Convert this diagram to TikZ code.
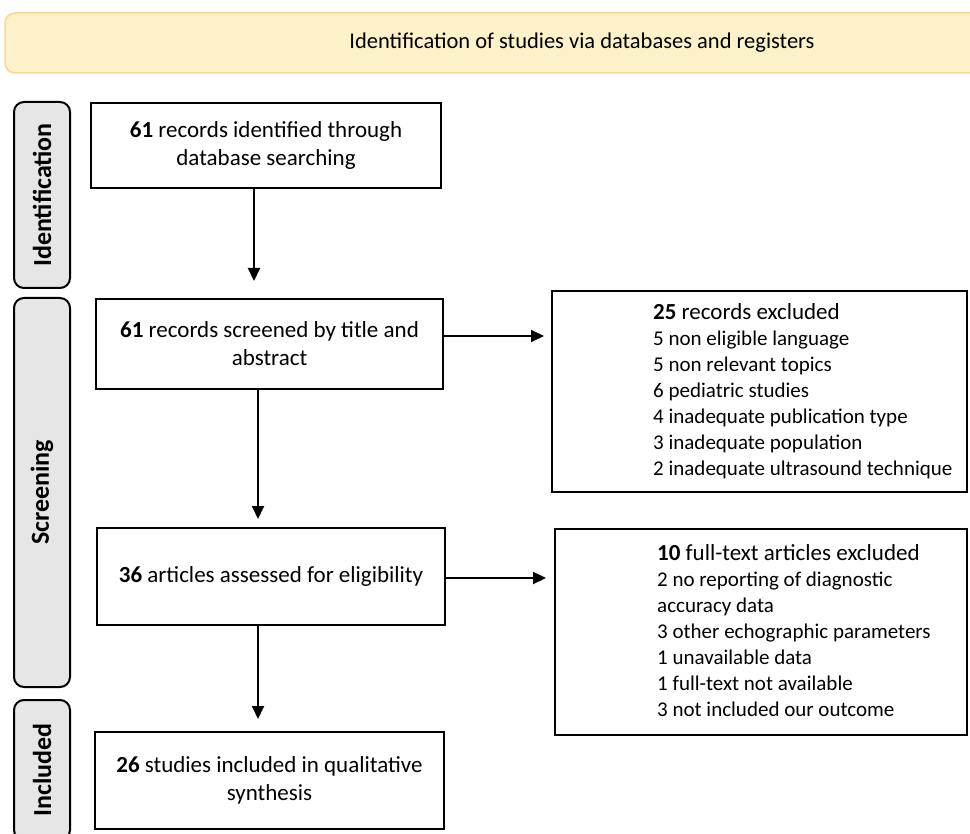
\documentclass[tikz,border=0pt]{standalone}
\usepackage{fontspec}
\setmainfont{Carlito}
\usetikzlibrary{arrows.meta}
\definecolor{bannerfill}{HTML}{FDF1C9}
\definecolor{bannerdraw}{HTML}{F6D98A}
\definecolor{sidefill}{HTML}{E6E6E6}
\begin{document}
\begin{tikzpicture}[x=1pt,y=-1pt,
  box/.style={draw=black, line width=2pt, fill=white, inner sep=0pt, align=center,
    font=\fontsize{23}{28}\selectfont},
  side/.style={draw=black, line width=2pt, fill=sidefill, rounded corners=10pt,
    inner sep=0pt, minimum width=56pt},
  sidetext/.style={font=\fontsize{26}{28}\selectfont\bfseries, rotate=90, inner sep=0pt},
  exclbox/.style={draw=black, line width=2pt, fill=white, inner sep=0pt},
  excltext/.style={anchor=north west, align=left, inner sep=0pt,
    font=\fontsize{21}{26}\selectfont},
  arr/.style={line width=2pt, -{Triangle[length=13pt,width=12pt]}},
]
\useasboundingbox (0,0) rectangle (970,834);
\clip (0,0) rectangle (970,834);

% banner
\node[draw=bannerdraw, line width=1.5pt, fill=bannerfill, rounded corners=10pt,
  minimum width=1154pt, minimum height=60pt, inner sep=0pt] (banner) at (582,43)
  {\fontsize{22.5}{26}\selectfont Identification of studies via databases and registers};

% side labels
\node[side, minimum height=186pt] (sid) at (42,195) {};
\node[sidetext] (sidt) at (sid.center) {Identification};
\node[side, minimum height=389pt] (sscr) at (42,492.5) {};
\node[sidetext] (sscrt) at (sscr.center) {Screening};
\node[side, minimum height=140pt] (sinc) at (42,770) {};
\node[sidetext] (sinct) at (42,770) {Included};

% main boxes
\node[box, minimum width=350pt, minimum height=85pt] (b1) at (266,145.5)
  {\textbf{61} records identified through\\database searching};
\node[box, minimum width=347pt, minimum height=90pt] (b2) at (269.5,344)
  {\textbf{61} records screened by title and\\abstract};
\node[box, minimum width=348pt, minimum height=97pt] (b3) at (271,576.5)
  {\textbf{36} articles assessed for eligibility};
\node[box, minimum width=349pt, minimum height=97pt] (b4) at (269.5,780.5)
  {\textbf{26} studies included in qualitative\\synthesis};

% exclusion boxes
\node[exclbox, minimum width=415pt, minimum height=201pt] (e1) at (759.5,391.5) {};
\node[excltext] (e1t) at (653,303)
  {{\fontsize{23}{26}\selectfont\textbf{25} records excluded}\\
   5 non eligible language\\
   5 non relevant topics\\
   6 pediatric studies\\
   4 inadequate publication type\\
   3 inadequate population\\
   2 inadequate ultrasound technique};
\node[exclbox, minimum width=412pt, minimum height=206pt] (e2) at (761,632) {};
\node[excltext] (e2t) at (657,544)
  {{\fontsize{23}{26}\selectfont\textbf{10} full-text articles excluded}\\
   2 no reporting of diagnostic\\
   accuracy data\\
   3 other echographic parameters\\
   1 unavailable data\\
   1 full-text not available\\
   3 not included our outcome};

% connectors
\coordinate (ax1) at (254,0);
\coordinate (ax2) at (258,0);
\draw[arr, shorten >=17pt] (b1.south -| ax1) -- (b2.north -| ax1);
\draw[arr, shorten >=8pt] (b2.south -| ax2) -- (b3.north -| ax2);
\draw[arr, shorten >=12pt] (b3.south -| ax2) -- (b4.north -| ax2);
\coordinate (ay1) at (0,336);
\coordinate (ay2) at (0,578);
\draw[arr, shorten >=7pt] (b2.east |- ay1) -- (e1.west |- ay1);
\draw[arr, shorten >=8pt] (b3.east |- ay2) -- (e2.west |- ay2);
\end{tikzpicture}
\end{document}
